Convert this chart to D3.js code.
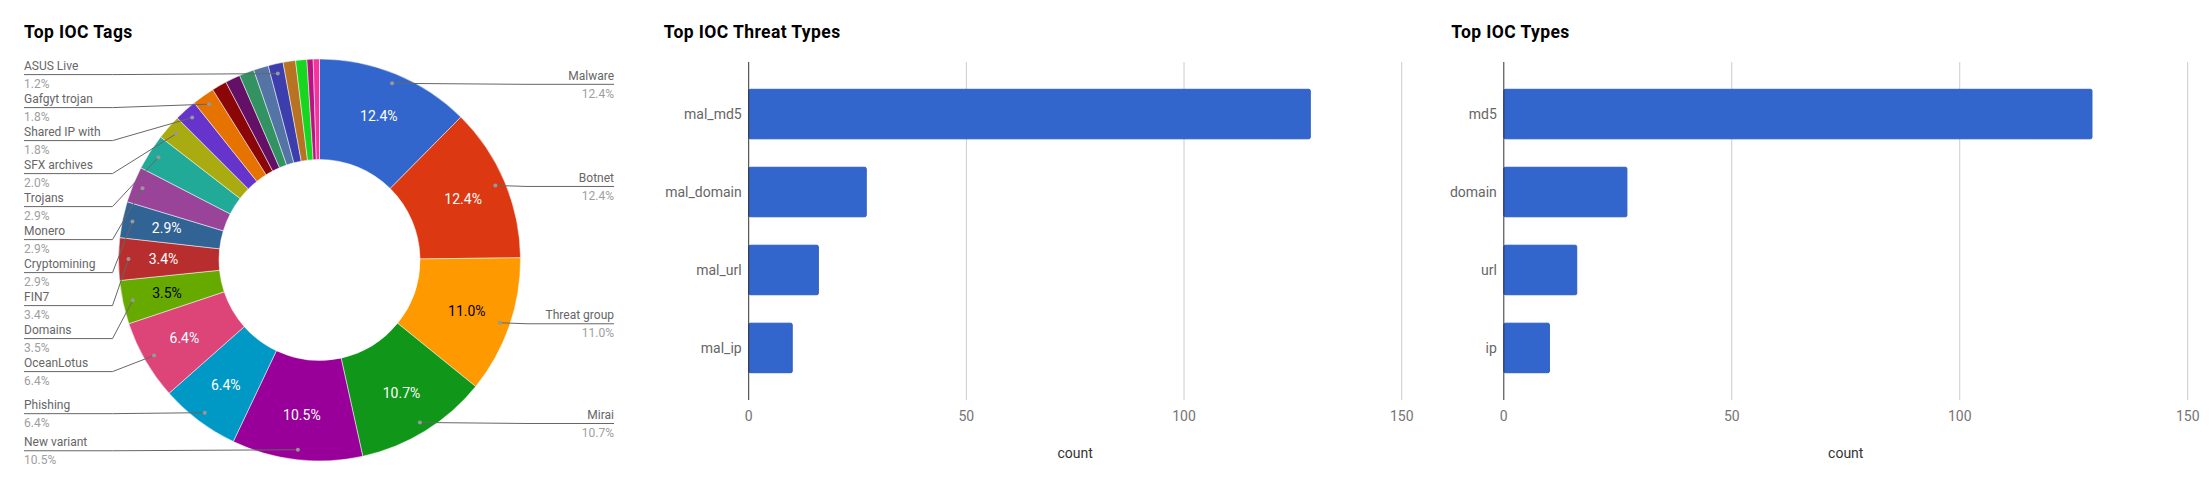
<!DOCTYPE html>
<html>
<head>
<meta charset="utf-8">
<script src="https://cdn.jsdelivr.net/npm/d3@7"></script>
<style>
  body { margin: 0; background: #fff; }
  text { font-family: Roboto, "Noto Sans", sans-serif; }
</style>
</head>
<body>
<svg id="chart" width="2212" height="486"></svg>
<script>
// pie: top IOC tags (share in %), clockwise from 12 o'clock
var tagNames = ["Malware", "Botnet", "Threat group", "Mirai", "New variant", "Phishing",
  "OceanLotus", "Domains", "FIN7", "Cryptomining", "Monero", "Trojans", "SFX archives",
  "Shared IP with", "Gafgyt trojan", null, null, null, null, "ASUS Live", null, null, null, null];
var tagShares = [12.4, 12.4, 11.0, 10.7, 10.5, 6.4, 6.4, 3.5, 3.4, 2.9, 2.9, 2.9, 2.0,
  1.8, 1.8, 1.2, 1.2, 1.2, 1.2, 1.2, 1.0, 0.9, 0.5, 0.5];
var tagColors = ["#3366cc", "#dc3912", "#ff9900", "#109618", "#990099", "#0099c6",
  "#dd4477", "#66aa00", "#b82e2e", "#316395", "#994499", "#22aa99", "#aaaa11",
  "#6633cc", "#e67300", "#8b0707", "#651067", "#329262", "#5574a6", "#3b3eac",
  "#b77322", "#16d620", "#b91383", "#f4359e"];

// bars
var threatTypes = ["mal_md5", "mal_domain", "mal_url", "mal_ip"];
var threatCounts = [129, 27, 16, 10];
var iocTypes = ["md5", "domain", "url", "ip"];
var iocCounts = [129, 27, 16, 10];
var countTicks = [0, 50, 100, 150];

var svg = d3.select("#chart");

function title(x, txt) {
  svg.append("text")
    .attr("x", x)
    .attr("y", 38)
    .attr("font-size", 17.5)
    .attr("font-weight", "bold")
    .attr("letter-spacing", 0.4)
    .attr("fill", "#000")
    .text(txt);
}

// ---------- donut ----------
title(24, "Top IOC Tags");

var cx = 319.5, cy = 260, rOut = 201, rIn = 100.5, rText = 156, rDot = 191;

var data = tagShares.map(function(v, i) {
  return { name: tagNames[i], val: v, color: tagColors[i] };
});

var arcs = d3.pie().sort(null).value(function(d) { return d.val; })(data);
var arc = d3.arc().innerRadius(rIn).outerRadius(rOut);

var pie = svg.append("g").attr("transform", "translate(" + cx + "," + cy + ")");

pie.selectAll("path").data(arcs)
  .enter()
  .append("path")
  .attr("d", arc)
  .attr("fill", function(d) { return d.data.color; })
  .attr("stroke", "#fff")
  .attr("stroke-width", 0.5);

function lum(c) {
  var rgb = d3.rgb(c);
  var f = function(v) { v /= 255; return v <= 0.03928 ? v / 12.92 : Math.pow((v + 0.055) / 1.055, 2.4); };
  return 0.2126 * f(rgb.r) + 0.7152 * f(rgb.g) + 0.0722 * f(rgb.b);
}

function angleOf(x, y) {
  var a = Math.atan2(x, -y);
  return a < 0 ? a + 2 * Math.PI : a;
}

// percentage inside slices, only where the box fits
arcs.forEach(function(d) {
  var mid = (d.startAngle + d.endAngle) / 2;
  var tx = rText * Math.sin(mid), ty = -rText * Math.cos(mid);
  var t = pie.append("text")
    .attr("x", tx)
    .attr("y", ty)
    .attr("dy", "0.35em")
    .attr("text-anchor", "middle")
    .attr("font-size", 14)
    .attr("fill", lum(d.data.color) > 0.3 ? "#000" : "#fff")
    .text(d.data.val.toFixed(1) + "%");
  var hw = t.node().getComputedTextLength() / 2 + 3, hh = 8;
  var ok = [[-hw, -hh], [hw, -hh], [-hw, hh], [hw, hh]].every(function(c) {
    var px = tx + c[0], py = ty + c[1];
    var a = angleOf(px, py), r = Math.sqrt(px * px + py * py);
    return a >= d.startAngle && a <= d.endAngle && r >= rIn && r <= rOut;
  });
  if (!ok) t.remove();
});

// labelled legend with leader lines
var labels = arcs.filter(function(d) { return d.data.name; }).map(function(d) {
  var mid = (d.startAngle + d.endAngle) / 2;
  return {
    name: d.data.name,
    val: d.data.val,
    right: mid < Math.PI,
    dx: cx + rDot * Math.sin(mid),
    dy: cy - rDot * Math.cos(mid)
  };
});

[true, false].forEach(function(side) {
  var list = labels.filter(function(l) { return l.right === side; })
    .sort(function(a, b) { return a.dy - b.dy; });
  var prev = -Infinity;
  list.forEach(function(l) {
    l.uy = Math.max(l.dy + 1, prev + 33);
    prev = l.uy;
  });
});

var lg = svg.append("g");
labels.forEach(function(l) {
  var tx = l.right ? 614 : 24, elbow = l.right ? 527 : 112.5;
  var anchor = l.right ? "end" : "start";
  lg.append("path")
    .attr("d", "M" + tx + "," + l.uy + "H" + elbow + "L" + l.dx + "," + l.dy)
    .attr("fill", "none")
    .attr("stroke", "#666")
    .attr("stroke-width", 1);
  lg.append("circle")
    .attr("cx", l.dx)
    .attr("cy", l.dy)
    .attr("r", 2)
    .attr("fill", "#999");
  lg.append("text")
    .attr("x", tx)
    .attr("y", l.uy - 4.5)
    .attr("text-anchor", anchor)
    .attr("font-size", 12)
    .attr("fill", "#666")
    .text(l.name);
  lg.append("text")
    .attr("x", tx)
    .attr("y", l.uy + 13.5)
    .attr("text-anchor", anchor)
    .attr("font-size", 12)
    .attr("fill", "#9e9e9e")
    .text(l.val.toFixed(1) + "%");
});

// ---------- bar charts ----------
function bars(titleX, titleTxt, x0, x1, cats, vals) {
  title(titleX, titleTxt);

  var top = 62, bottom = 400;
  var x = d3.scaleLinear().domain([0, 150]).range([x0, x1]);
  var y = d3.scaleBand().domain(cats).range([top, bottom])
    .paddingInner(0.365).paddingOuter(0.35);

  var g = svg.append("g");

  g.selectAll("line.grid").data(countTicks.slice(1))
    .enter()
    .append("line")
    .attr("class", "grid")
    .attr("x1", function(d) { return x(d); })
    .attr("x2", function(d) { return x(d); })
    .attr("y1", top)
    .attr("y2", bottom)
    .attr("stroke", "#ccc");

  g.selectAll("rect").data(cats)
    .enter()
    .append("rect")
    .attr("x", x(0))
    .attr("y", function(d) { return y(d); })
    .attr("width", function(d, i) { return x(vals[i]) - x(0); })
    .attr("height", y.bandwidth())
    .attr("rx", 1.5)
    .attr("fill", "#3366cc")
    .attr("stroke", "#2e5cc0")
    .attr("stroke-width", 1);

  g.append("line")
    .attr("x1", x(0)).attr("x2", x(0))
    .attr("y1", top).attr("y2", bottom)
    .attr("stroke", "#333");

  g.selectAll("text.cat").data(cats)
    .enter()
    .append("text")
    .attr("class", "cat")
    .attr("x", x(0) - 7)
    .attr("y", function(d) { return y(d) + y.bandwidth() / 2; })
    .attr("dy", "0.35em")
    .attr("text-anchor", "end")
    .attr("font-size", 14)
    .attr("fill", "#666")
    .text(function(d) { return d; });

  g.selectAll("text.tick").data(countTicks)
    .enter()
    .append("text")
    .attr("class", "tick")
    .attr("x", function(d) { return x(d); })
    .attr("y", 421)
    .attr("text-anchor", "middle")
    .attr("font-size", 14)
    .attr("fill", "#757575")
    .text(function(d) { return d; });

  g.append("text")
    .attr("x", (x0 + x1) / 2)
    .attr("y", 458)
    .attr("text-anchor", "middle")
    .attr("font-size", 14)
    .attr("fill", "#333")
    .text("count");
}

bars(663.8, "Top IOC Threat Types", 748.7, 1401.7, threatTypes, threatCounts);
bars(1451.3, "Top IOC Types", 1503.8, 2187.7, iocTypes, iocCounts);
</script>
</body>
</html>
